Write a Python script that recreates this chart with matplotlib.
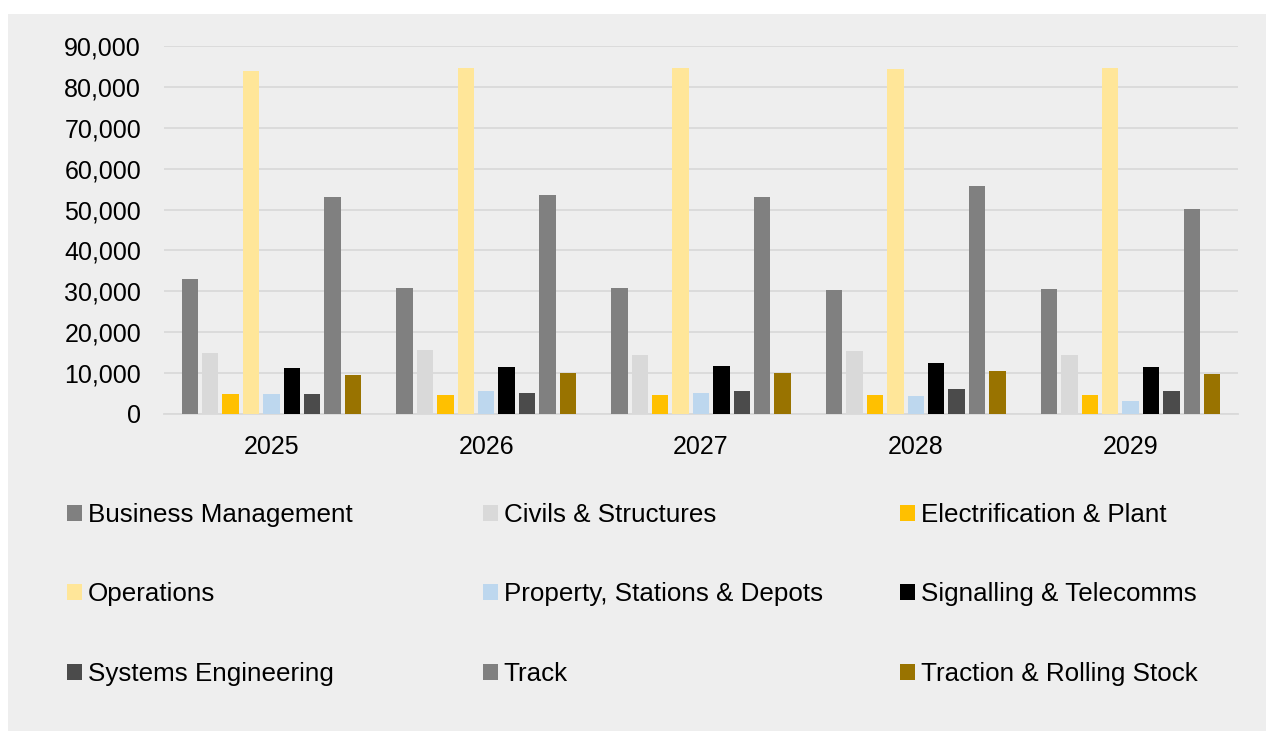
import numpy as np
import matplotlib
matplotlib.use('Agg')
import matplotlib.pyplot as plt
from matplotlib.patches import Patch, Rectangle
from matplotlib.ticker import FuncFormatter

plt.rcParams['font.family'] = ['Liberation Sans', 'DejaVu Sans']

# data
years = ['2025', '2026', '2027', '2028', '2029']
categories = ['Business Management', 'Civils & Structures', 'Electrification & Plant',
              'Operations', 'Property, Stations & Depots', 'Signalling & Telecomms',
              'Systems Engineering', 'Track', 'Traction & Rolling Stock']
business_mgmt = [32900, 30700, 30800, 30400, 30550]
civils = [14950, 15600, 14300, 15300, 14450]
electrification = [4850, 4500, 4500, 4600, 4500]
operations = [84050, 84700, 84700, 84450, 84700]
property_sd = [4850, 5550, 5000, 4350, 3100]
signalling = [11100, 11350, 11700, 12400, 11500]
systems_eng = [4750, 5150, 5550, 6000, 5500]
track = [53000, 53650, 53000, 55850, 50100]
traction = [9500, 9900, 9900, 10450, 9800]
series = [business_mgmt, civils, electrification, operations, property_sd,
          signalling, systems_eng, track, traction]

colors = ['#808080', '#D9D9D9', '#FFC000', '#FFE699', '#BDD7EE',
          '#000000', '#4B4B4B', '#808080', '#997300']

fig = plt.figure(figsize=(12.66, 7.31), dpi=100)
fig.patch.set_facecolor('white')
# grey panel behind everything
fig.add_artist(Rectangle((8 / 1266, 0), 1 - 8 / 1266, 1 - 14 / 731,
                         transform=fig.transFigure, facecolor='#EEEEEE',
                         edgecolor='none', zorder=-10))

ax = fig.add_axes([164 / 1266, 1 - 413.7 / 731, (1238 - 164) / 1266, (413.7 - 46.4) / 731])
ax.set_facecolor('none')

x = np.arange(len(years))
width = 0.077
pitch = 0.095
for i, (vals, col) in enumerate(zip(series, colors)):
    offset = (i - 4) * pitch
    ax.bar(x + offset, vals, width=width, color=col, zorder=3)

ax.set_xlim(-0.5, len(years) - 0.5)
ax.set_ylim(0, 90000)
ax.set_yticks(np.arange(0, 90001, 10000))
ax.yaxis.set_major_formatter(FuncFormatter(lambda v, p: f'{int(v):,}'))
ax.set_xticks(x)
ax.set_xticklabels(years)
ax.grid(axis='y', color='#D9D9D9', linewidth=1.3, zorder=0)
for s in ['top', 'right', 'left']:
    ax.spines[s].set_visible(False)
ax.spines['bottom'].set_color('#D9D9D9')
ax.spines['bottom'].set_linewidth(1.3)
ax.tick_params(axis='both', length=0, labelsize=18, colors='black')
ax.tick_params(axis='y', pad=16.5)
ax.tick_params(axis='x', pad=15)

# legend: three columns, filled row-wise like Excel
col_x = [67, 483, 900]
for c in range(3):
    idx = [c, c + 3, c + 6]
    handles = [Patch(facecolor=colors[k], edgecolor='none', label=categories[k]) for k in idx]
    fig.legend(handles=handles, loc='center left',
               bbox_to_anchor=(col_x[c] / 1266, 1 - 594.5 / 731),
               frameon=False, fontsize=18.75, borderpad=0, borderaxespad=0,
               handlelength=0.57, handleheight=0.57, handletextpad=0.22,
               labelspacing=2.13)

fig.savefig('out.png', dpi=100, facecolor='white')
